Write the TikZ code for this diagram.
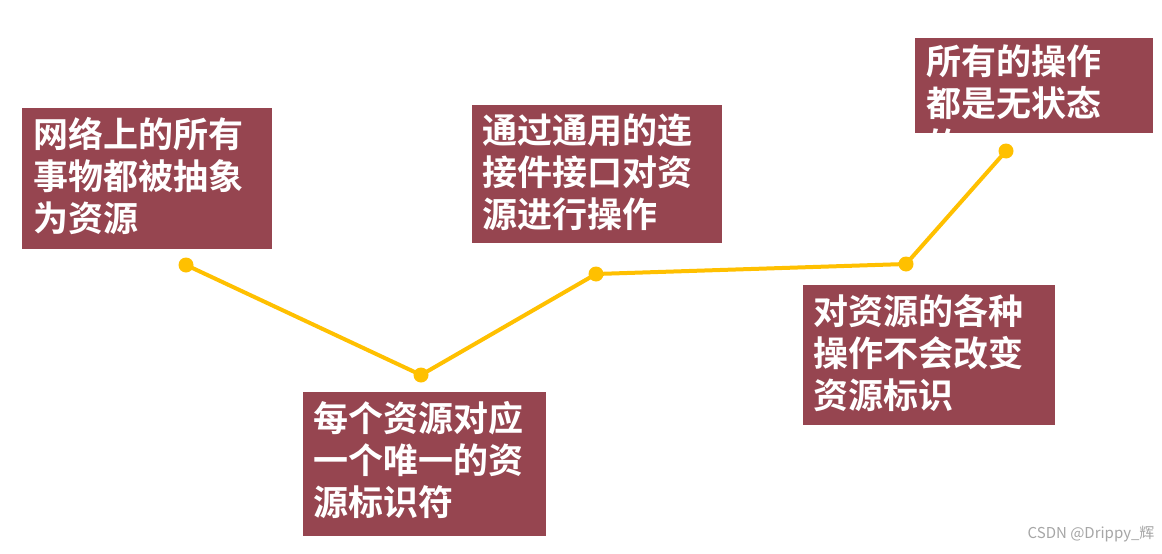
\documentclass[tikz,border=0pt]{standalone}
\usepackage{fontspec}
\newfontfamily\cjk{Noto Sans CJK SC}[BoldFont={Noto Sans CJK SC Bold}]
\definecolor{boxred}{RGB}{150,69,80}
\definecolor{lineyel}{RGB}{255,192,0}
\begin{document}
\begin{tikzpicture}[x=1pt,y=-1pt,
  box/.style={fill=boxred,draw=none},
  txt/.style={anchor=north west,inner sep=0pt,align=left,text=white,font=\cjk\bfseries\fontsize{35}{42}\selectfont},
  dot/.style={circle,fill=lineyel,minimum size=15pt,inner sep=0pt},
  conn/.style={lineyel,line width=4pt}]
\fill[white] (0,0) rectangle (1162,554);
\useasboundingbox (0,0) rectangle (1162,554);
\fill[box] (22,108) rectangle (272,249);
\node[txt] (t1) at (33,117) {网络上的所有\\事物都被抽象\\为资源};
\fill[box] (303,392) rectangle (546,536);
\node[txt] (t2) at (313,401) {每个资源对应\\一个唯一的资\\源标识符};
\fill[box] (472,105) rectangle (722,243);
\node[txt] (t3) at (482,114) {通过通用的连\\接件接口对资\\源进行操作};
\fill[box] (803,285) rectangle (1055,425);
\node[txt] (t4) at (813,294) {对资源的各种\\操作不会改变\\资源标识};
\fill[box] (915,38) rectangle (1153,133);
\begin{scope}
\clip (915,38) rectangle (1153,133);
\node[txt] (t5) at (926,45) {所有的操作\\都是无状态\\的};
\end{scope}
\node[dot] (p1) at (186,265) {};
\node[dot] (p2) at (421,375) {};
\node[dot] (p3) at (596,274) {};
\node[dot] (p4) at (906,264) {};
\node[dot] (p5) at (1006,151) {};
\draw[conn] (p1.center) -- (p2.center) -- (p3.center) -- (p4.center) -- (p5.center);
\node[anchor=east,text=black!35,font=\cjk\fontsize{15}{18}\selectfont] (wm) at (1158,534) {CSDN @Drippy\_辉};
\end{tikzpicture}
\end{document}
